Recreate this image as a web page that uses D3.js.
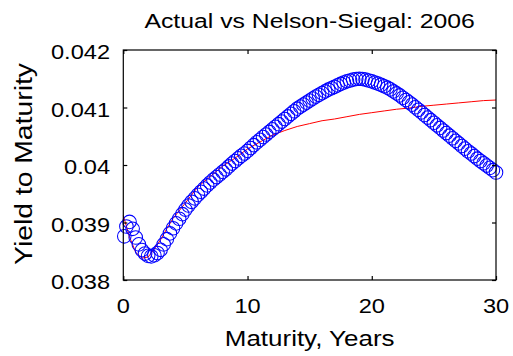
<!DOCTYPE html>
<html><head><meta charset="utf-8">
<script src="https://cdn.jsdelivr.net/npm/d3@7"></script>
<style>
html,body{margin:0;padding:0;background:#fff;}
text{font-family:"Liberation Sans",Arial,sans-serif;fill:#000;}
</style></head>
<body><div id="chart"></div>
<script>
const title = "Actual vs Nelson-Siegal: 2006";
const xLabel = "Maturity, Years";
const yLabel = "Yield to Maturity";
const xTicks = [0, 10, 20, 30];
const yTicks = [0.038, 0.039, 0.04, 0.041, 0.042];
const yTickLabels = ["0.038", "0.039", "0.04", "0.041", "0.042"];

// Actual yields (blue circles)
const actualMaturity = [0.08,0.25,0.5,0.75,1,1.25,1.5,1.75,2,2.25,2.5,2.75,3,3.25,3.5,3.75,4,4.25,4.5,4.75,5,5.25,5.5,5.75,6,6.25,6.5,6.75,7,7.25,7.5,7.75,8,8.25,8.5,8.75,9,9.25,9.5,9.75,10,10.25,10.5,10.75,11,11.25,11.5,11.75,12,12.25,12.5,12.75,13,13.25,13.5,13.75,14,14.25,14.5,14.75,15,15.25,15.5,15.75,16,16.25,16.5,16.75,17,17.25,17.5,17.75,18,18.25,18.5,18.75,19,19.25,19.5,19.75,20,20.25,20.5,20.75,21,21.25,21.5,21.75,22,22.25,22.5,22.75,23,23.25,23.5,23.75,24,24.25,24.5,24.75,25,25.25,25.5,25.75,26,26.25,26.5,26.75,27,27.25,27.5,27.75,28,28.25,28.5,28.75,29,29.25,29.5,29.75,30];
const actualYield = [0.038760,0.038930,0.039010,0.038890,0.038740,0.038620,0.038520,0.038460,0.038420,0.038410,0.038430,0.038470,0.038525,0.038620,0.038710,0.038810,0.038900,0.038985,0.039065,0.039145,0.039225,0.039295,0.039360,0.039420,0.039480,0.039535,0.039590,0.039645,0.039695,0.039745,0.039790,0.039835,0.039880,0.039925,0.039975,0.040025,0.040070,0.040115,0.040160,0.040200,0.040245,0.040295,0.040345,0.040395,0.040440,0.040487,0.040530,0.040575,0.040620,0.040665,0.040710,0.040755,0.040800,0.040845,0.040890,0.040935,0.040980,0.041015,0.041050,0.041085,0.041120,0.041155,0.041190,0.041220,0.041250,0.041280,0.041310,0.041335,0.041360,0.041385,0.041410,0.041435,0.041455,0.041470,0.041485,0.041495,0.041500,0.041495,0.041485,0.041470,0.041455,0.041435,0.041415,0.041395,0.041370,0.041345,0.041315,0.041280,0.041245,0.041210,0.041170,0.041130,0.041090,0.041050,0.041005,0.040960,0.040915,0.040870,0.040825,0.040780,0.040735,0.040690,0.040645,0.040600,0.040555,0.040510,0.040465,0.040420,0.040375,0.040330,0.040285,0.040240,0.040200,0.040155,0.040110,0.040070,0.040030,0.039990,0.039950,0.039910,0.039870];

// Nelson-Siegel fitted curve (red line)
const nsMaturity = [0,0.5,1,1.5,2,2.5,3,3.5,4,5,6,7,8,9,10,11,12,13,14,15,16,17,18,19,20,21,22,23,24,25,26,27,28,29,30];
const nsYield = [0.03912,0.03875,0.03848,0.03838,0.03840,0.03854,0.03870,0.03889,0.03907,0.03934,0.03962,0.03980,0.03998,0.04012,0.04028,0.04040,0.04052,0.04060,0.04067,0.04072,0.04077,0.04080,0.04084,0.04088,0.04091,0.04094,0.04097,0.04099,0.04102,0.04104,0.04106,0.04108,0.04110,0.04112,0.04113];

const W = 513, H = 356;
const L = 123.3, R = 496, T = 50, B = 280;
const SX = 1.18;

const svg = d3.select("#chart").append("svg").attr("width", W).attr("height", H);
svg.append("rect").attr("width", W).attr("height", H).attr("fill", "#fff");

const x = d3.scaleLinear().domain([0, 30]).range([L, R]);
const y = d3.scaleLinear().domain([0.038, 0.042]).range([B, T]);

function txt(px, py, s, anchor, size, rot) {
  svg.append("text")
    .attr("transform", `translate(${px},${py})${rot ? " rotate(-90)" : ""} scale(${SX},1)`)
    .attr("text-anchor", anchor)
    .style("font-size", size + "px")
    .text(s);
}

// data: red line
const line = d3.line().x((d, i) => x(nsMaturity[i])).y((d, i) => y(nsYield[i]));
svg.append("path").datum(nsYield).attr("d", line)
  .attr("fill", "none").attr("stroke", "#ff0000").attr("stroke-width", 1);

// data: circles
svg.append("g").selectAll("circle").data(actualYield).join("circle")
  .attr("cx", (d, i) => x(actualMaturity[i])).attr("cy", d => y(d))
  .attr("r", 6.8).attr("fill", "none").attr("stroke", "#0000ff").attr("stroke-width", 1.05);

// box
svg.append("rect").attr("x", L).attr("y", T).attr("width", R - L).attr("height", B - T)
  .attr("fill", "none").attr("stroke", "#000").attr("stroke-width", 1.2);

// axes ticks (inward)
const axStyle = g => { g.select(".domain").remove(); g.selectAll("line").attr("stroke", "#000").attr("stroke-width", 1.2); g.selectAll("text").remove(); };
svg.append("g").attr("transform", `translate(0,${B})`)
  .call(d3.axisBottom(x).tickValues(xTicks).tickSizeInner(-4).tickSizeOuter(0)).call(axStyle);
svg.append("g").attr("transform", `translate(0,${T})`)
  .call(d3.axisTop(x).tickValues(xTicks).tickSizeInner(-4).tickSizeOuter(0)).call(axStyle);
svg.append("g").attr("transform", `translate(${L},0)`)
  .call(d3.axisLeft(y).tickValues(yTicks).tickSizeInner(-4).tickSizeOuter(0)).call(axStyle);
svg.append("g").attr("transform", `translate(${R},0)`)
  .call(d3.axisRight(y).tickValues(yTicks).tickSizeInner(-4).tickSizeOuter(0)).call(axStyle);

// tick labels
xTicks.forEach(d => txt(x(d), 313, String(d), "middle", 20));
yTicks.forEach((d, i) => txt(110, y(d) + 9, yTickLabels[i], "end", 20));

// titles
txt((L + R) / 2, 28, title, "middle", 21);
txt((L + R) / 2, 346, xLabel, "middle", 22);
txt(31.7, 164, yLabel, "middle", 24, true);
</script></body></html>
